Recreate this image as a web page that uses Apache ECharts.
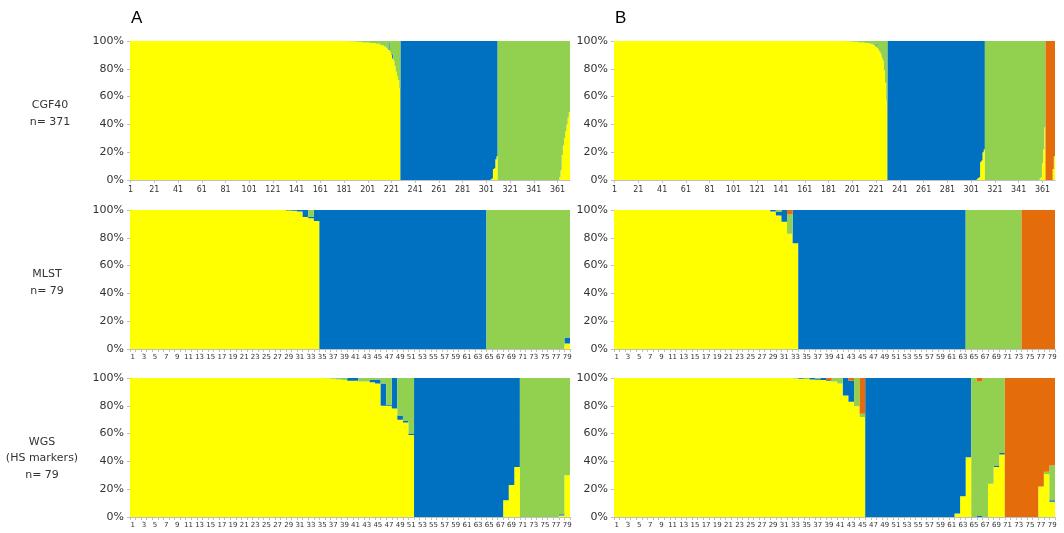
<!DOCTYPE html>
<html><head><meta charset="utf-8">
<script src="https://cdn.jsdelivr.net/npm/echarts@6/dist/echarts.min.js"></script>
<style>html,body{margin:0;padding:0;background:#fff}#c{width:1064px;height:533px}</style>
</head><body><div id="c"></div>
<script>
// cluster names and colours (bottom -> top of each stacked bar)
const clusterNames = ['Cluster 1', 'Cluster 2', 'Cluster 3', 'Cluster 4'];
const clusterColors = ['#FFFF00', '#0070C0', '#92D050', '#E46C0A'];
const yTickLabels = ['0%', '20%', '40%', '60%', '80%', '100%'];
const rowLabels = ['CGF40\nn= 371', 'MLST\nn= 79', 'WGS\n(HS markers)\nn= 79'];
const panelLetters = ['A', 'B'];

// membership per isolate, run-length: [number of isolates, yellow, blue, green, orange] (%)
const cgfA = [
  [184,100,0,0,0],[6,99.8,0,0.2,0],[6,99.5,0,0.5,0],[6,99,0,1,0],[5,98.5,0,1.5,0],[4,98,0,2,0],
  [3,97,0,3,0],[2,96,0,4,0],[1,95,0,5,0],[1,94,0,6,0],[1,93.5,5,1.5,0],[1,92,0,8,0],[1,90,0,10,0],
  [1,87.5,3,9.5,0],[1,86,0,14,0],[1,82,0,18,0],[1,78,0,22,0],[1,75,0,25,0],[1,72,0,28,0],[1,66,0,34,0],
  [76,0,100,0,0],[1,0.5,99.5,0,0],[1,1,99,0,0],[1,8,92,0,0],[1,8.5,91.5,0,0],[1,15,85,0,0],[1,17,83,0,0],
  [52,0,0,100,0],[1,2,0,98,0],[1,7,0,93,0],[1,18,0,82,0],[1,25,0,75,0],[1,30,0,70,0],[1,35,0,65,0],
  [1,40,0,60,0],[1,45,0,55,0],[1,49,0,51,0]
];
const cgfB = [
  [195,100,0,0,0],[5,99.8,0,0.2,0],[6,99.5,0,0.5,0],[5,99,0,1,0],[4,98.5,0,1.5,0],[3,98,0,2,0],
  [2,97,0,3,0],[1,96,2,2,0],[1,95,0,5,0],[1,94,0,6,0],[1,92.5,0,7.5,0],[1,91,0,9,0],[1,88,0,12,0],
  [1,86,0,14,0],[1,79,0,21,0],[1,70,0,30,0],[1,57,0,43,0],
  [75,0,100,0,0],[1,0.5,99.5,0,0],[1,1.5,98.5,0,0],[1,2,98,0,0],[1,13,87,0,0],[1,14,86,0,0],[1,20,80,0,0],[1,22,78,0,0],
  [46,0,0,100,0],[1,1,0,99,0],[1,2,0,98,0],[1,12,0,88,0],[1,22,0,78,0],[1,38,0,62,0],
  [6,0,0,0,100],[1,8,0,0,92],[1,17,0,0,83]
];
const mlstA = [
  [28,100,0,0,0],[1,99.7,0.3,0,0],[1,99.5,0.5,0,0],[1,99,1,0,0],[1,95,5,0,0],[1,94,1,5,0],[1,92,8,0,0],
  [30,0,100,0,0],[14,0,0,100,0],[1,4,4.3,91.7,0]
];
const mlstB = [
  [28,100,0,0,0],[1,99,1,0,0],[1,96,2.5,1.5,0],[1,91.6,8.4,0,0],[1,83,0,14,3],[1,76,24,0,0],
  [30,0,100,0,0],[10,0,0,100,0],[6,0,0,0,100]
];
const wgsA = [
  [35,100,0,0,0],[1,99.8,0,0.2,0],[1,99.5,0,0.5,0],[1,99,0,1,0],[1,98.5,0,1.5,0],[1,98,2,0,0],[1,98,2,0,0],
  [1,97.5,0,2.5,0],[1,97.5,0,2.5,0],[1,97,1.5,1.5,0],[1,96,3,1,0],[1,80,16,4,0],[1,80,0.5,19.5,0],
  [1,78,22,0,0],[1,70,3,27,0],[1,68,1,31,0],[1,59,1,40,0],
  [16,0,100,0,0],[1,12,88,0,0],[1,23,77,0,0],[1,36,64,0,0],
  [7,0,0,100,0],[1,1,1,98,0],[1,30,0,70,0]
];
const wgsB = [
  [32,100,0,0,0],[1,99.7,0,0.3,0],[1,99.5,0.5,0,0],[1,99.3,0,0.7,0],[1,99,1,0,0],[1,98.7,0.5,0.8,0],
  [1,98.5,1.5,0,0],[1,98,0.5,0,1.5],[1,97.5,0,2.5,0],[1,96,0,4,0],[1,87.5,12.5,0,0],[1,83,15,0,2],
  [1,79.6,0,20.4,0],[1,72,0,2.3,25.7],
  [16,0,100,0,0],[1,2.5,97.5,0,0],[1,15,85,0,0],[1,43,57,0,0],
  [1,0,0,100,0],[1,0,0.7,96.8,2.5],[1,0,0,100,0],[1,24,0,76,0],[1,36,1,63,0],[1,45,1,54,0],
  [6,0,0,0,100],[1,22,0,0,78],[1,31,0,1.5,67.5],[1,11,1,25,63]
];

const panels = [
  {runs: cgfA, row: 0, col: 0}, {runs: cgfB, row: 0, col: 1},
  {runs: mlstA, row: 1, col: 0}, {runs: mlstB, row: 1, col: 1},
  {runs: wgsA, row: 2, col: 0}, {runs: wgsB, row: 2, col: 1}
];

function expand(runs) {
  const out = [[], [], [], []];
  runs.forEach(r => { for (let k = 0; k < r[0]; k++) for (let s = 0; s < 4; s++) out[s].push(r[s + 1]); });
  return out;
}

const rowTop = [41, 210, 378], rowH = 139;
const colLeft = [130, 614], colW = [440, 441];
const FONT = 'DejaVu Sans';

const grids = [], xAxes = [], yAxes = [], series = [];
panels.forEach((p, i) => {
  const vals = expand(p.runs);
  const n = vals[0].length;
  const cats = [];
  for (let k = 1; k <= n; k++) cats.push(String(k));
  const big = n > 100;
  grids.push({left: colLeft[p.col], top: rowTop[p.row], width: colW[p.col], height: rowH, containLabel: false});
  xAxes.push({
    type: 'category', gridIndex: i, data: cats, boundaryGap: true,
    axisLine: {show: true, lineStyle: {color: '#BFBFBF', width: 1}},
    axisTick: {show: true, interval: big ? 19 : 0, alignWithLabel: big, length: 3, lineStyle: {color: '#BFBFBF'}},
    axisLabel: {interval: big ? 19 : 1, fontSize: big ? 8 : 7, color: '#333', margin: big ? 6 : 5, fontFamily: FONT},
    splitLine: {show: false}
  });
  yAxes.push({
    type: 'value', gridIndex: i, min: 0, max: 100, interval: 20,
    axisLine: {show: false},
    axisTick: {show: true, length: 3, lineStyle: {color: '#BFBFBF'}},
    axisLabel: {formatter: v => yTickLabels[v / 20], fontSize: 11, color: '#333', margin: 6, fontFamily: FONT},
    splitLine: {show: false}
  });
  for (let s = 0; s < 4; s++) {
    series.push({
      type: 'bar', name: clusterNames[s], xAxisIndex: i, yAxisIndex: i, stack: 'p' + i,
      data: vals[s], barCategoryGap: '0%', barGap: '0%',
      large: true, largeThreshold: 1,
      itemStyle: {color: clusterColors[s]}, silent: true
    });
  }
});

const graphic = [];
panelLetters.forEach((t, c) => graphic.push({type: 'text', left: colLeft[c] + 1, top: 10,
  style: {text: t, fontSize: 17, fontFamily: 'Liberation Sans', fill: '#000'}}));
const rowCx = [50, 47, 42];
const rowShift = [1, 1, 9];
rowLabels.forEach((t, r) => {
  const lines = t.split('\n').length;
  graphic.push({type: 'text', x: rowCx[r], y: rowTop[r] + rowH / 2 + 2 + rowShift[r] - (lines * 16.5) / 2,
    style: {text: t, fontSize: 11, fontFamily: FONT, fill: '#333', align: 'center', verticalAlign: 'top', lineHeight: 16.5}});
});

const chart = echarts.init(document.getElementById('c'), null, {renderer: 'canvas'});
chart.setOption({
  animation: false, backgroundColor: '#fff',
  grid: grids, xAxis: xAxes, yAxis: yAxes, series: series, graphic: graphic
});
</script></body></html>
